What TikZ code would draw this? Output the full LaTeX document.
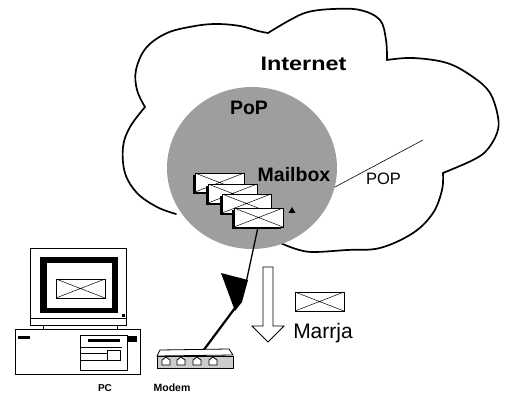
\documentclass[tikz,border=0pt]{standalone}
\usepackage{fontspec}
\setmainfont{Liberation Sans}
\usetikzlibrary{shapes.geometric}
\begin{document}
\begin{tikzpicture}[x=1pt,y=-1pt,
  cloudline/.style={line width=1.7pt, line join=round, line cap=round},
  txt/.style={inner sep=0pt, anchor=base, text=black},
  thinline/.style={line width=0.7pt},
  mail/.pic={
    \fill[black] (-2,2) rectangle (47,21);
    \draw[fill=white, line width=0.8pt] (0,0) rectangle (49,19);
    \draw[line width=0.5pt] (0,0) -- (49,19) (49,0) -- (0,19);
  },
  mailplain/.pic={
    \draw[fill=white, line width=0.8pt] (0,0) rectangle (49,19);
    \draw[line width=0.5pt] (0,0) -- (49,19) (49,0) -- (0,19);
  }]
\useasboundingbox (0,0) rectangle (508,395);
\fill[white] (0,0) rectangle (508,395);

% ---------- Internet cloud ----------
\draw[cloudline] plot[smooth, tension=0.6] coordinates
  {(278,242) (296,249) (313,252) (347,250) (380,248) (413,233) (433,213) (442,190) (443,173)};
\draw[cloudline] plot[smooth, tension=0.6] coordinates
  {(443,173) (473,160) (487,150) (497,133) (498,117) (490,93) (473,77) (447,63) (413,58) (387,60)};
\draw[cloudline] plot[smooth, tension=0.6] coordinates
  {(387,60) (386,40) (380,20) (360,10) (333,9) (308,12) (290,20) (268,33)};
\draw[cloudline] plot[smooth, tension=0.6] coordinates
  {(268,33) (258,31) (240,26) (217,24) (195,26) (167,33) (146,48) (136,70) (137,90) (145,107)};
\draw[cloudline] plot[smooth, tension=0.6] coordinates
  {(145,107) (130,127) (123,147) (125,173) (137,193) (157,207) (176,214)};

% ---------- PoP server ----------
\node[ellipse, fill=black!38, minimum width=170pt, minimum height=162pt, inner sep=0pt] (popc) at (252,168) {};

\node[txt, font=\fontsize{19.5}{22}\selectfont\bfseries] (inet) at (303.5,70.5) {\scalebox{1.2}[1]{Internet}};
\node[txt, font=\fontsize{19.5}{22}\selectfont\bfseries] (popname) at (249,115) {PoP};
\node[txt, font=\fontsize{19.5}{22}\selectfont\bfseries] (mbox) at (294,182) {Mailbox};

% mailbox contents
\pic at (195,173) {mail};
\pic at (208,184) {mail};
\pic at (222,194) {mail};
\pic at (234,208) {mail};
\fill (288.5,213) -- (295.5,213) -- (292,207) -- cycle;

% POP link
\coordinate (popEnd) at (423,140);
\draw[line width=0.6pt] (popc.-13) -- (popEnd);
\node[txt, font=\fontsize{16.5}{18}\selectfont] (poplbl) at (383.5,185) {POP};

% ---------- dial-up link (lightning) ----------
\coordinate (boltTop) at (258,227);
\coordinate (modemTop) at (203,351);
\draw[line width=1.3pt] (boltTop) -- (246,283);
\fill (248,280) -- (221,273) -- (235,311) -- (242,302) -- cycle;
\draw[line width=2.2pt] (238,304) -- (modemTop);

% ---------- download arrow and message ----------
\draw[line width=0.8pt, fill=white] (263,267) -- (273,267) -- (273,326) -- (284,326) -- (268,342) -- (252,326) -- (263,326) -- cycle;
\pic at (295,292) {mailplain};
\node[txt, font=\fontsize{21}{24}\selectfont] (marrja) at (323,338) {Marrja};

% ---------- modem ----------
\draw[line width=0.8pt, fill=white] (160,350) -- (229,349) -- (233,355) -- (157,356) -- cycle;
\draw[line width=0.8pt, fill=black!20] (157,356) rectangle (233,368);
\foreach \x in {166,181,197,213}
  \draw[line width=0.8pt, fill=white] (\x-4,365) -- (\x-4,360) -- (\x,357) -- (\x+4,360) -- (\x+4,365) -- cycle;
\node[txt, font=\fontsize{10.5}{12}\selectfont\bfseries] (modemlbl) at (172,391) {Modem};

% ---------- PC ----------
\draw[thinline] (30,248) rectangle (126,325);
\fill[black] (40,257) rectangle (118,313);
\fill[white] (47,263) rectangle (112,308);
\pic at (56,279) {mailplain};
\draw[thinline] (30,318) -- (126,318);
\fill (122,314) rectangle (125,317);
\draw[thinline] (43,325) -- (43,329) (117,325) -- (117,329);
\draw[thinline] (15,329) rectangle (140,374);
\fill (18,336) rectangle (30,339);
\draw[thinline] (80,335) rectangle (127,370);
\fill (88,339) rectangle (120,342);
\fill (128,336) rectangle (137,342);
\draw[thinline] (80,347) -- (122,347) (80,353) -- (107,353) (80,360) -- (107,360);
\draw[thinline] (107,350) rectangle (120,360);
\node[txt, font=\fontsize{10}{12}\selectfont\bfseries] (pclbl) at (105,391) {PC};
\end{tikzpicture}
\end{document}
